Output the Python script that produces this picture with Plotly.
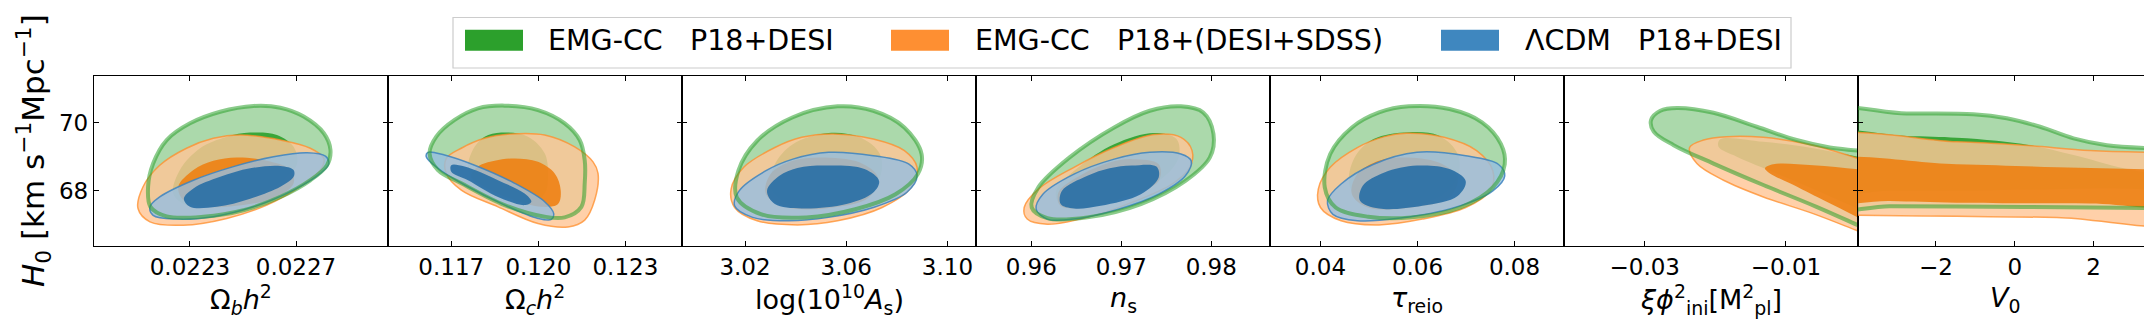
import plotly.graph_objects as go
from plotly.subplots import make_subplots

# ---------------------------------------------------------------
# H0 is shared by every panel
# ---------------------------------------------------------------
h0_range = [66.38, 71.37]
h0_ticks = [68, 70]

series_names = ["EMG-CC\u00a0\u00a0\u00a0P18+DESI",
                "EMG-CC\u00a0\u00a0\u00a0P18+(DESI+SDSS)",
                "\u039bCDM\u00a0\u00a0\u00a0P18+DESI"]

param_labels = ["\u03a9<sub><i>b</i></sub><i>h</i><sup>2</sup>",
                "\u03a9<sub><i>c</i></sub><i>h</i><sup>2</sup>",
                "log(10<sup>10</sup><i>A</i><sub>s</sub>)",
                "<i>n</i><sub>s</sub>",
                "<i>\u03c4</i><sub>reio</sub>",
                "<i>\u03be\u03d5</i><sup>2</sup><sub>ini</sub>[M<sup>2</sup><sub>pl</sub>]",
                "<i>V</i><sub>0</sub>"]

x_ranges = [[0.021938, 0.023047], [0.11482, 0.12495], [2.9951, 3.1113],
            [0.95386, 0.98653], [0.0296, 0.0902], [-0.04144, 0.00021],
            [-3.975, 3.483]]
x_tickvals = [[0.0223, 0.0227], [0.117, 0.120, 0.123], [3.02, 3.06, 3.10],
              [0.96, 0.97, 0.98], [0.04, 0.06, 0.08], [-0.03, -0.01],
              [-2, 0, 2]]
x_ticktext = [["0.0223", "0.0227"], ["0.117", "0.120", "0.123"],
              ["3.02", "3.06", "3.10"], ["0.96", "0.97", "0.98"],
              ["0.04", "0.06", "0.08"], ["\u22120.03", "\u22120.01"],
              ["\u22122", "0", "2"]]

# ---------------------------------------------------------------
# contour outlines (x, H0)
# emg = EMG-CC P18+DESI, sdss = EMG-CC P18+(DESI+SDSS), lcdm = LCDM
# ---------------------------------------------------------------
# Omega_b h^2
obh2_emg_2s_x = [0.022540, 0.022641, 0.022729, 0.022805, 0.022830, 0.022817, 0.022754, 0.022641, 0.022502,
                 0.022351, 0.022212, 0.022151, 0.022142, 0.022161, 0.022212, 0.022300, 0.022414]
obh2_emg_2s_y = [70.49, 70.44, 70.18, 69.69, 69.20, 68.75, 68.31, 67.82, 67.43,
                 67.24, 67.25, 67.53, 68.12, 68.80, 69.49, 69.98, 70.32]
obh2_emg_1s_x = [0.022527, 0.022628, 0.022691, 0.022704, 0.022653, 0.022540, 0.022401, 0.022287, 0.022237,
                 0.022262, 0.022338, 0.022439]
obh2_emg_1s_y = [69.71, 69.64, 69.29, 68.80, 68.31, 67.87, 67.58, 67.58, 67.92, 68.61, 69.25, 69.59]
obh2_sdss_2s_x = [0.022489, 0.022641, 0.022754, 0.022805, 0.022792, 0.022716, 0.022590, 0.022439, 0.022275,
                  0.022149, 0.022104, 0.022123, 0.022186, 0.022287, 0.022388]
obh2_sdss_2s_y = [69.64, 69.49, 69.25, 68.95, 68.61, 68.12, 67.58, 67.19, 66.99, 67.09, 67.48, 68.12, 68.75,
                  69.25, 69.54]
obh2_sdss_1s_x = [0.022477, 0.022590, 0.022679, 0.022691, 0.022628, 0.022502, 0.022363, 0.022275, 0.022256,
                  0.022313, 0.022388]
obh2_sdss_1s_y = [68.98, 68.88, 68.61, 68.22, 67.82, 67.58, 67.53, 67.73, 68.12, 68.61, 68.88]
obh2_lcdm_2s_x = [0.022742, 0.022811, 0.022824, 0.022792, 0.022691, 0.022540, 0.022388, 0.022250, 0.022161,
                  0.022149, 0.022186, 0.022313, 0.022464, 0.022615]
obh2_lcdm_2s_y = [69.12, 69.02, 68.80, 68.51, 68.02, 67.53, 67.24, 67.17, 67.28, 67.53, 67.82, 68.31, 68.71,
                  69.00]
obh2_lcdm_1s_x = [0.022641, 0.022691, 0.022691, 0.022641, 0.022527, 0.022401, 0.022300, 0.022277, 0.022313,
                  0.022414, 0.022527]
obh2_lcdm_1s_y = [68.73, 68.61, 68.41, 68.12, 67.77, 67.53, 67.53, 67.77, 68.07, 68.41, 68.66]

# Omega_c h^2
och2_emg_2s_x = [0.118839, 0.119988, 0.120908, 0.121425, 0.121598, 0.121598, 0.121483, 0.120908, 0.120218,
                 0.118839, 0.117345, 0.116540, 0.116253, 0.116483, 0.117115, 0.117920]
och2_emg_2s_y = [70.50, 70.37, 69.98, 69.49, 68.90, 68.22, 67.53, 67.22, 67.24, 67.58, 68.22, 68.61, 69.10,
                 69.59, 70.08, 70.42]
och2_emg_1s_x = [0.118724, 0.119644, 0.120218, 0.120333, 0.120218, 0.119759, 0.118609, 0.117805, 0.117575,
                 0.117805, 0.118149]
och2_emg_1s_y = [69.71, 69.59, 69.10, 68.51, 67.92, 67.68, 67.82, 68.22, 68.71, 69.29, 69.59]
och2_sdss_2s_x = [0.119069, 0.120218, 0.121253, 0.121885, 0.122057, 0.121942, 0.121598, 0.121023, 0.119988,
                  0.118609, 0.117345, 0.116828, 0.116828, 0.117345, 0.118149]
och2_sdss_2s_y = [69.67, 69.64, 69.29, 68.85, 68.51, 67.73, 67.14, 66.94, 67.04, 67.53, 68.02, 68.51, 68.95,
                  69.25, 69.54]
och2_sdss_1s_x = [0.119184, 0.119988, 0.120563, 0.120770, 0.120678, 0.120103, 0.119184, 0.118264, 0.117690,
                  0.117920, 0.118494]
och2_sdss_1s_y = [68.95, 68.85, 68.51, 68.02, 67.61, 67.53, 67.73, 68.07, 68.41, 68.71, 68.88]
och2_lcdm_2s_x = [0.116195, 0.116770, 0.117805, 0.119184, 0.120218, 0.120529, 0.120448, 0.119988, 0.118839,
                  0.117460, 0.116540, 0.116138]
och2_lcdm_2s_y = [69.13, 69.05, 68.75, 68.22, 67.68, 67.33, 67.16, 67.19, 67.58, 68.17, 68.66, 69.00]
och2_lcdm_1s_x = [0.117000, 0.117460, 0.118609, 0.119529, 0.119759, 0.119529, 0.118609, 0.117575, 0.117000]
och2_lcdm_1s_y = [68.75, 68.71, 68.31, 67.92, 67.68, 67.58, 67.82, 68.31, 68.56]

# log(10^10 A_s)
logA_emg_2s_x = [3.0566, 3.0707, 3.0830, 3.0898, 3.0883, 3.0795, 3.0636, 3.0442, 3.0265, 3.0168, 3.0174,
                 3.0248, 3.0389]
logA_emg_2s_y = [70.48, 70.35, 69.86, 69.08, 68.49, 67.90, 67.46, 67.22, 67.31, 67.80, 68.59, 69.47, 70.16]
logA_emg_1s_x = [3.0530, 3.0654, 3.0733, 3.0733, 3.0654, 3.0513, 3.0371, 3.0301, 3.0318, 3.0389]
logA_emg_1s_y = [69.70, 69.57, 69.08, 68.39, 67.80, 67.51, 67.61, 68.10, 68.78, 69.37]
logA_sdss_2s_x = [3.0548, 3.0707, 3.0830, 3.0880, 3.0857, 3.0742, 3.0566, 3.0407, 3.0248, 3.0159, 3.0145,
                  3.0195, 3.0318, 3.0424]
logA_sdss_2s_y = [69.67, 69.52, 69.18, 68.69, 68.10, 67.51, 67.12, 67.00, 67.12, 67.51, 68.05, 68.69, 69.27,
                  69.57]
logA_sdss_1s_x = [3.0495, 3.0654, 3.0725, 3.0689, 3.0548, 3.0371, 3.0283, 3.0301, 3.0389]
logA_sdss_1s_y = [68.98, 68.83, 68.39, 67.80, 67.51, 67.51, 67.90, 68.49, 68.88]
logA_lcdm_2s_x = [3.0530, 3.0707, 3.0848, 3.0880, 3.0839, 3.0707, 3.0530, 3.0371, 3.0230, 3.0159, 3.0177,
                  3.0283, 3.0389]
logA_lcdm_2s_y = [69.13, 69.03, 68.78, 68.44, 67.95, 67.51, 67.22, 67.12, 67.22, 67.56, 68.00, 68.59, 68.93]
logA_lcdm_1s_x = [3.0513, 3.0672, 3.0730, 3.0707, 3.0601, 3.0424, 3.0318, 3.0287, 3.0336, 3.0407]
logA_lcdm_1s_y = [68.74, 68.64, 68.29, 67.95, 67.61, 67.48, 67.61, 68.00, 68.44, 68.67]

# n_s
ns_emg_2s_x = [0.97663, 0.97911, 0.98025, 0.97985, 0.97713, 0.97218, 0.96624, 0.96178, 0.96005, 0.96079,
               0.96426, 0.96921, 0.97317]
ns_emg_2s_y = [70.48, 70.30, 69.67, 68.98, 68.29, 67.61, 67.22, 67.20, 67.51, 68.10, 68.98, 69.86, 70.35]
ns_emg_1s_x = [0.97366, 0.97614, 0.97638, 0.97465, 0.97069, 0.96624, 0.96327, 0.96277, 0.96525, 0.96921]
ns_emg_1s_y = [69.70, 69.52, 68.98, 68.39, 67.80, 67.51, 67.56, 68.00, 68.69, 69.37]
ns_sdss_2s_x = [0.97366, 0.97663, 0.97787, 0.97762, 0.97564, 0.97119, 0.96624, 0.96178, 0.95955, 0.95921,
                0.96079, 0.96475, 0.96921]
ns_sdss_2s_y = [69.65, 69.57, 69.18, 68.69, 68.20, 67.66, 67.22, 67.02, 67.17, 67.51, 68.05, 68.69, 69.27]
ns_sdss_1s_x = [0.97119, 0.97416, 0.97416, 0.97069, 0.96624, 0.96327, 0.96302, 0.96574, 0.96871]
ns_sdss_1s_y = [68.93, 68.78, 68.29, 67.85, 67.51, 67.56, 67.95, 68.49, 68.83]
ns_lcdm_2s_x = [0.97317, 0.97663, 0.97777, 0.97713, 0.97416, 0.96970, 0.96475, 0.96178, 0.96054, 0.96129,
                0.96475, 0.96921]
ns_lcdm_2s_y = [69.13, 69.08, 68.88, 68.44, 67.90, 67.46, 67.17, 67.17, 67.46, 67.90, 68.49, 68.93]
ns_lcdm_1s_x = [0.97119, 0.97391, 0.97416, 0.97218, 0.96772, 0.96475, 0.96327, 0.96342, 0.96624, 0.96871]
ns_lcdm_1s_y = [68.74, 68.71, 68.39, 67.90, 67.56, 67.48, 67.61, 68.00, 68.44, 68.66]

# tau_reio
tau_emg_2s_x = [0.05821, 0.06659, 0.07330, 0.07721, 0.07799, 0.07553, 0.06883, 0.05877, 0.04983, 0.04313,
                0.04089, 0.04201, 0.04648, 0.05207]
tau_emg_2s_y = [70.48, 70.40, 70.01, 69.37, 68.78, 68.10, 67.51, 67.22, 67.24, 67.51, 68.10, 69.08, 69.86,
                70.30]
tau_emg_1s_x = [0.05821, 0.06436, 0.06827, 0.06827, 0.06436, 0.05654, 0.04872, 0.04592, 0.04704, 0.05095]
tau_emg_1s_y = [69.72, 69.62, 69.08, 68.39, 67.80, 67.51, 67.61, 68.20, 68.98, 69.52]
tau_sdss_2s_x = [0.05765, 0.06547, 0.07218, 0.07553, 0.07497, 0.06994, 0.06101, 0.05207, 0.04425, 0.04000,
                 0.03955, 0.04201, 0.04760, 0.05318]
tau_sdss_2s_y = [69.69, 69.57, 69.18, 68.59, 68.00, 67.51, 67.17, 67.00, 67.12, 67.51, 68.05, 68.69, 69.27,
                 69.59]
tau_sdss_1s_x = [0.05654, 0.06436, 0.06827, 0.06659, 0.05877, 0.04983, 0.04648, 0.04760, 0.05207]
tau_sdss_1s_y = [68.98, 68.83, 68.39, 67.80, 67.51, 67.51, 67.90, 68.49, 68.88]
tau_lcdm_2s_x = [0.05989, 0.06994, 0.07665, 0.07799, 0.07553, 0.06771, 0.05654, 0.04760, 0.04257, 0.04145,
                 0.04425, 0.05095]
tau_lcdm_2s_y = [69.13, 69.03, 68.78, 68.44, 68.00, 67.51, 67.20, 67.12, 67.31, 67.71, 68.20, 68.78]
tau_lcdm_1s_x = [0.05989, 0.06659, 0.06994, 0.06827, 0.06101, 0.05207, 0.04816, 0.04872, 0.05318]
tau_lcdm_1s_y = [68.74, 68.64, 68.29, 67.85, 67.56, 67.48, 67.71, 68.15, 68.54]

# xi phi_ini^2 (contours run past the upper edge of the prior)
xi_emg_2s_x = [-0.025435, -0.020259, -0.014141, -0.008494, -0.003788, 0.000212, 0.006, 0.006, 0.000212,
               -0.00567, -0.0132, -0.020259, -0.025906, -0.028729, -0.029106, -0.027788]
xi_emg_2s_y = [70.43, 70.29, 69.88, 69.49, 69.27, 69.18, 69.05, 66.46, 66.99, 67.53, 68.17, 68.80, 69.34,
               69.74, 70.08, 70.35]
xi_emg_1s_x = [-0.019318, -0.0132, -0.006141, 0.000212, 0.006, 0.006, 0.000212, -0.00567, -0.011318,
               -0.016965, -0.019553]
xi_emg_1s_y = [69.51, 69.44, 69.25, 69.00, 68.77, 66.95, 67.48, 68.02, 68.51, 69.00, 69.29]
xi_sdss_2s_x = [-0.023647, -0.02167, -0.018376, -0.0132, -0.006141, 0.000212, 0.006, 0.006, 0.000212,
                -0.006141, -0.0132, -0.018847, -0.022612]
xi_sdss_2s_y = [69.27, 69.49, 69.59, 69.57, 69.34, 68.95, 68.58, 66.35, 66.82, 67.33, 67.82, 68.31, 68.80]
xi_sdss_1s_x = [-0.012965, -0.011788, -0.006141, 0.000212, 0.006, 0.006, 0.000212, -0.004729, -0.009435,
                -0.012259]
xi_sdss_1s_y = [68.66, 68.78, 68.75, 68.63, 68.52, 66.62, 67.22, 67.73, 68.22, 68.51]

# V_0 (bands run across the whole prior)
v0_emg_2s_x = [-5.0, -2.746, -1.051, -0.203, 0.644, 1.492, 2.339, 3.483, 5.0, 5.0, 4.2, 1.915, -0.627,
               -3.169, -5.0]
v0_emg_2s_y = [70.27, 70.27, 70.25, 70.13, 69.88, 69.54, 69.34, 69.25, 69.22, 67.48, 67.48, 67.51, 67.53,
               67.55, 67.55]
v0_emg_1s_x = [-5.0, -2.746, -1.475, -0.458, 0.390, 1.492, 2.763, 3.483, 5.0, 5.0, 1.915, -0.627, -3.169,
               -5.0]
v0_emg_1s_y = [69.63, 69.61, 69.56, 69.47, 69.34, 69.05, 68.66, 68.51, 68.40, 68.17, 68.07, 68.02, 68.00,
               68.00]
v0_sdss_2s_x = [-5.0, -1.475, 0.220, 1.915, 3.483, 5.0, 5.0, 1.068, -1.475, -4.017, -5.0]
v0_sdss_2s_y = [69.46, 69.44, 69.34, 69.18, 69.13, 69.12, 67.16, 67.22, 67.25, 67.28, 67.28]
v0_sdss_1s_x = [-5.0, -1.475, 1.068, 3.483, 5.0, 5.0, 1.915, -1.475, -3.169, -5.0]
v0_sdss_1s_y = [68.80, 68.78, 68.69, 68.63, 68.63, 67.61, 67.63, 67.65, 67.70, 67.73]

# one row per panel: (emg 2s, emg 1s, sdss 2s, sdss 1s, lcdm 2s, lcdm 1s)
panels = [
    [(obh2_emg_2s_x, obh2_emg_2s_y), (obh2_emg_1s_x, obh2_emg_1s_y),
     (obh2_sdss_2s_x, obh2_sdss_2s_y), (obh2_sdss_1s_x, obh2_sdss_1s_y),
     (obh2_lcdm_2s_x, obh2_lcdm_2s_y), (obh2_lcdm_1s_x, obh2_lcdm_1s_y)],
    [(och2_emg_2s_x, och2_emg_2s_y), (och2_emg_1s_x, och2_emg_1s_y),
     (och2_sdss_2s_x, och2_sdss_2s_y), (och2_sdss_1s_x, och2_sdss_1s_y),
     (och2_lcdm_2s_x, och2_lcdm_2s_y), (och2_lcdm_1s_x, och2_lcdm_1s_y)],
    [(logA_emg_2s_x, logA_emg_2s_y), (logA_emg_1s_x, logA_emg_1s_y),
     (logA_sdss_2s_x, logA_sdss_2s_y), (logA_sdss_1s_x, logA_sdss_1s_y),
     (logA_lcdm_2s_x, logA_lcdm_2s_y), (logA_lcdm_1s_x, logA_lcdm_1s_y)],
    [(ns_emg_2s_x, ns_emg_2s_y), (ns_emg_1s_x, ns_emg_1s_y),
     (ns_sdss_2s_x, ns_sdss_2s_y), (ns_sdss_1s_x, ns_sdss_1s_y),
     (ns_lcdm_2s_x, ns_lcdm_2s_y), (ns_lcdm_1s_x, ns_lcdm_1s_y)],
    [(tau_emg_2s_x, tau_emg_2s_y), (tau_emg_1s_x, tau_emg_1s_y),
     (tau_sdss_2s_x, tau_sdss_2s_y), (tau_sdss_1s_x, tau_sdss_1s_y),
     (tau_lcdm_2s_x, tau_lcdm_2s_y), (tau_lcdm_1s_x, tau_lcdm_1s_y)],
    [(xi_emg_2s_x, xi_emg_2s_y), (xi_emg_1s_x, xi_emg_1s_y),
     (xi_sdss_2s_x, xi_sdss_2s_y), (xi_sdss_1s_x, xi_sdss_1s_y), None, None],
    [(v0_emg_2s_x, v0_emg_2s_y), (v0_emg_1s_x, v0_emg_1s_y),
     (v0_sdss_2s_x, v0_sdss_2s_y), (v0_sdss_1s_x, v0_sdss_1s_y), None, None],
]

# fill colour, edge colour, edge width for each of the six layers
layer_styles = [
    ("rgba(44,160,44,0.40)", None, 0),
    ("rgba(44,160,44,0.90)", None, 0),
    ("rgba(255,198,150,0.82)", "rgba(255,140,40,0.75)", 1.5),
    ("rgba(238,126,16,0.88)", None, 0),
    ("rgba(150,190,225,0.80)", "rgba(60,130,190,0.85)", 1.5),
    ("rgba(40,110,165,0.90)", None, 0),
]
swatch_colors = ["#2ca02c", "#fe8f32", "#3f87bf"]

FONT = "DejaVu Sans"
W, H = 2152, 322
ML, MR, MT, MB = 86, 8, 68, 84
PW, PH = W - ML - MR, H - MT - MB


def px(X):
    return (X - ML) / PW


def py(Y):
    return (H - MB - Y) / PH


fig = make_subplots(rows=1, cols=7, shared_yaxes=True, horizontal_spacing=0)

for col, layers in enumerate(panels, start=1):
    for contour, (fc, lc, lw) in zip(layers, layer_styles):
        if contour is None:
            continue
        xs, ys = contour
        fig.add_trace(go.Scatter(
            x=xs + xs[:1], y=ys + ys[:1], mode="lines", fill="toself",
            fillcolor=fc,
            line=dict(color=lc if lc else "rgba(0,0,0,0)", width=lw, shape="spline", smoothing=1.0),
            showlegend=False, hoverinfo="skip"), row=1, col=col)
    # thick outline of the outer EMG-CC P18+DESI contour
    xs, ys = layers[0]
    fig.add_trace(go.Scatter(
        x=xs + xs[:1], y=ys + ys[:1], mode="lines",
        line=dict(color="rgba(44,160,44,0.55)", width=4, shape="spline", smoothing=1.0),
        showlegend=False, hoverinfo="skip"), row=1, col=col)

    fig.update_xaxes(range=x_ranges[col - 1], tickvals=x_tickvals[col - 1],
                     ticktext=x_ticktext[col - 1], row=1, col=col)

axis_style = dict(ticks="inside", ticklen=5, tickwidth=1.2, tickcolor="black",
                  showline=True, linecolor="black", linewidth=1.3, mirror="ticks",
                  showgrid=False, zeroline=False,
                  tickfont=dict(family=FONT, size=23, color="black"))
fig.update_xaxes(**axis_style)
fig.update_yaxes(range=h0_range, tickvals=h0_ticks, ticktext=[str(t) for t in h0_ticks], **axis_style)

annotations = []
for i, lab in enumerate(param_labels):
    annotations.append(dict(text=lab, x=(i + 0.5) / 7, y=py(291), xref="paper", yref="paper",
                            xanchor="center", yanchor="middle", showarrow=False,
                            font=dict(family=FONT, size=27, color="black")))
annotations.append(dict(text="<i>H</i><sub>0</sub> [km s<sup>\u22121</sup>Mpc<sup>\u22121</sup>]",
                        x=px(25), y=py(143), xref="paper", yref="paper", textangle=-90,
                        xanchor="center", yanchor="middle", showarrow=False,
                        font=dict(family=FONT, size=31, color="black")))

# legend drawn by hand so the swatches match the original size
shapes = [dict(type="rect", xref="paper", yref="paper", x0=px(445), x1=px(1783),
               y0=py(60), y1=py(9.5), line=dict(color="#cccccc", width=1.2),
               fillcolor="white", layer="above")]
sw_left = [457, 883, 1433]
txt_left = [538, 965, 1515]
for name, c, sx, tx in zip(series_names, swatch_colors, sw_left, txt_left):
    shapes.append(dict(type="rect", xref="paper", yref="paper", x0=px(sx), x1=px(sx + 58),
                       y0=py(42.7), y1=py(21.7), line=dict(width=0), fillcolor=c, layer="above"))
    annotations.append(dict(text=name, x=px(tx), y=py(32), xref="paper", yref="paper",
                            xanchor="left", yanchor="middle", showarrow=False,
                            font=dict(family=FONT, size=28.5, color="black")))

fig.update_layout(width=W, height=H, margin=dict(l=ML, r=MR, t=MT, b=MB),
                  plot_bgcolor="white", paper_bgcolor="white",
                  annotations=annotations, shapes=shapes, showlegend=False)

fig.write_html("out.html")
